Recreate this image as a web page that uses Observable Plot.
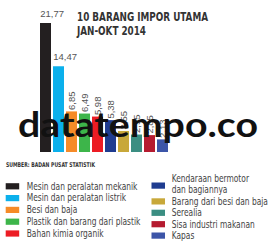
<!DOCTYPE html>
<html><head><meta charset="utf-8">
<script src="https://cdn.jsdelivr.net/npm/d3@7"></script>
<script src="https://cdn.jsdelivr.net/npm/@observablehq/plot@0.6"></script>
<style>
body{margin:0;background:#fff;}
#wrap{position:relative;width:273px;height:248px;overflow:hidden;background:#fff;}
#wrap svg{display:block}
#over{position:absolute;left:0;top:0;pointer-events:none}
</style></head><body><div id="wrap"></div>
<script>
const categories = [
  "Mesin dan peralatan mekanik",
  "Mesin dan peralatan listrik",
  "Besi dan baja",
  "Plastik dan barang dari plastik",
  "Bahan kimia organik",
  "Kendaraan bermotor dan bagiannya",
  "Barang dari besi dan baja",
  "Serealia",
  "Sisa industri makanan",
  "Kapas"
];
const values = [21.77, 14.47, 6.85, 6.49, 5.98, 5.38, 3.55, 2.95, 2.85, 2.13];
const colors = ["#231f20","#0bb0ec","#f68b28","#3db54a","#ec1c24","#1f3c90","#c8a83a","#3b8e82","#b51b30","#3c55a8"];
const legendLines = [
  ["Mesin dan peralatan mekanik"],
  ["Mesin dan peralatan listrik"],
  ["Besi dan baja"],
  ["Plastik dan barang dari plastik"],
  ["Bahan kimia organik"],
  ["Kendaraan bermotor","dan bagiannya"],
  ["Barang dari besi dan baja"],
  ["Serealia"],
  ["Sisa industri makanan"],
  ["Kapas"]
];
const titleLines = ["10 BARANG IMPOR UTAMA", "JAN-OKT 2014"];
const sourceText = "SUMBER: BADAN PUSAT STATISTIK";
const watermark = "datatempo.co";

const fmt = v => d3.format(".2f")(v).replace(".", ",");
const data = categories.map((c, i) => ({cat: c, value: values[i], label: fmt(values[i]), flat: i < 2}));

const wrap = document.getElementById("wrap");
const chart = Plot.plot({
  width: 273, height: 160,
  marginLeft: 33.6, marginRight: 98, marginTop: 23, marginBottom: 8,
  x: {domain: categories, padding: 0.17, axis: null},
  y: {domain: [0, d3.max(values)], axis: null},
  color: {domain: categories, range: colors},
  style: {fontFamily: "Liberation Sans, Arial, sans-serif", background: "#fff"},
  marks: [
    Plot.barY(data, {x: "cat", y: "value", fill: "cat"}),
    Plot.text(data.filter(d => d.flat), {x: "cat", y: "value", text: "label", textAnchor: "start", dx: -5.8, dy: -9.5, fontSize: 9.5, fill: "#555"}),
    Plot.text(data.filter(d => !d.flat), {x: "cat", y: "value", text: "label", rotate: -90, textAnchor: "start", dy: -2, fontSize: 9.5, fill: "#555"})
  ]
});
wrap.appendChild(chart);

// overlay: title and watermark
const over = d3.select(wrap).append("svg").attr("id", "over").attr("width", 273).attr("height", 160);
over.selectAll("text.t").data(titleLines).join("text")
  .attr("x", 77).attr("y", (d, i) => 21 + i * 14)
  .attr("font-family", "Liberation Sans Narrow, DejaVu Sans Condensed, Arial Narrow, sans-serif")
  .attr("font-weight", "bold").attr("font-size", 12.5).attr("fill", "#333")
  .attr("textLength", (d, i) => i === 0 ? 131 : 69).attr("lengthAdjust", "spacingAndGlyphs")
  .text(d => d);
over.append("text")
  .attr("x", 18).attr("y", 137)
  .attr("font-family", "Lato, Open Sans, sans-serif").attr("font-weight", "bold")
  .attr("font-size", 34).attr("fill", "#111")
  .attr("textLength", 240).attr("lengthAdjust", "spacingAndGlyphs")
  .text(watermark);

// source + legend
const leg = d3.select(wrap).append("svg").attr("width", 273).attr("height", 88);
const off = 160;
leg.append("text").attr("x", 6).attr("y", 166.5 - off)
  .attr("font-family", "Liberation Sans Narrow, DejaVu Sans Condensed, sans-serif")
  .attr("font-weight", "bold").attr("font-size", 6.5).attr("fill", "#333")
  .attr("textLength", 89).attr("lengthAdjust", "spacingAndGlyphs")
  .text(sourceText);

const font = "DejaVu Sans Condensed, sans-serif";
categories.forEach((c, i) => {
  const left = i < 5;
  const k = left ? i : i - 5;
  let lineYs;
  if (left) {
    lineYs = [186.2 + k * 11.8];
  } else {
    const base = 178.5 + (k === 0 ? 0 : (k + 1) * 11.4);
    lineYs = legendLines[i].map((_, j) => base + j * 11.4);
  }
  const cy = d3.mean(lineYs) + (lineYs.length > 1 ? 1.3 : 0);
  const sx = left ? 5.7 : 151.5;
  const tx = left ? 26.7 : 171.7;
  leg.append("rect").attr("x", sx).attr("y", cy - 3 - off).attr("width", 13.5).attr("height", 6.2).attr("fill", colors[i]);
  legendLines[i].forEach((ln, j) => {
    leg.append("g").attr("transform", `translate(${tx},${lineYs[j] - off}) scale(0.85,1)`)
      .append("text").attr("dy", "0.35em").attr("font-family", font).attr("font-size", 9.8)
      .attr("fill", "#444").text(ln);
  });
});
</script></body></html>
